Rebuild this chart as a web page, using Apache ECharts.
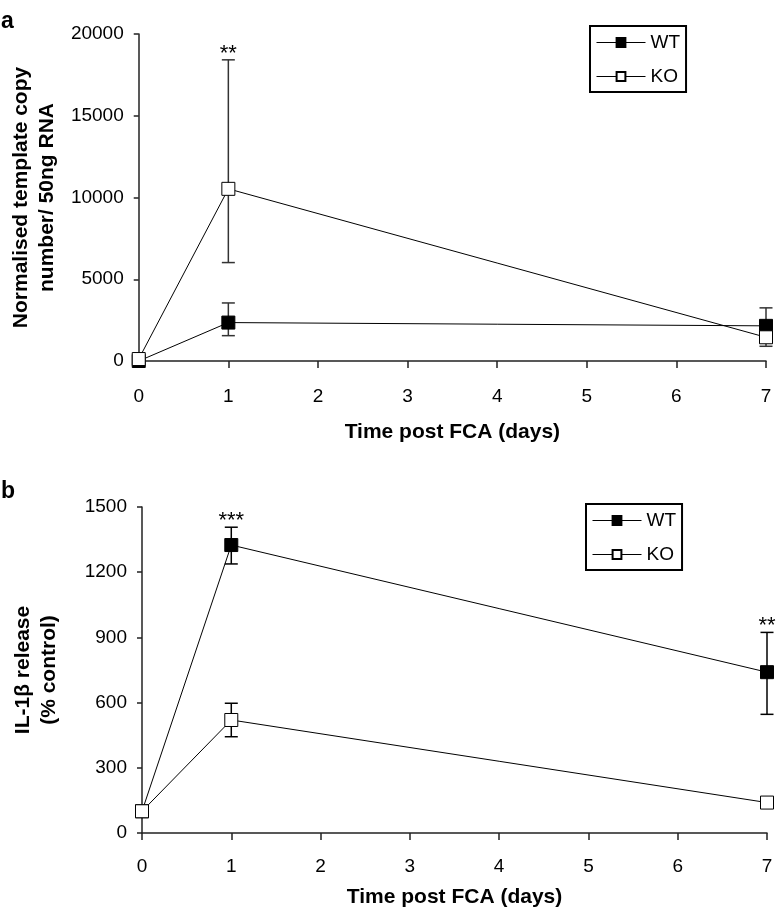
<!DOCTYPE html>
<html>
<head>
<meta charset="utf-8">
<script src="https://cdn.jsdelivr.net/npm/echarts@6/dist/echarts.min.js"></script>
<style>
html, body { margin: 0; padding: 0; background: #fff; }
#chart { width: 777px; height: 911px; }
</style>
</head>
<body>
<div id="chart"></div>
<script>
var days = [0, 1, 7];

// panel a - normalised template copy number / 50ng RNA
var copyWT = [0, 2350, 2150];
var copyWTLow = [-80, 1550, 1100];
var copyWTHigh = [80, 3550, 3250];
var copyKO = [120, 10530, 1450];
var copyKOLow = [40, 6020, 900];
var copyKOHigh = [200, 18420, 2000];
var copyStars = ['', '**', ''];

// panel b - IL-1beta release (% control)
var ilWT = [100, 1325, 740];
var ilWTLow = [80, 1238, 546];
var ilWTHigh = [120, 1407, 923];
var ilKO = [100, 520, 140];
var ilKOLow = [80, 443, 125];
var ilKOHigh = [120, 597, 155];
var ilStars = ['', '***', '**'];

var font = 'Liberation Sans, Arial, sans-serif';

function pairs(ys) {
    return days.map(function (d, i) { return [d, ys[i]]; });
}

function lineSeries(name, ys, fill, idx) {
    return {
        name: name,
        type: 'line',
        xAxisIndex: idx,
        yAxisIndex: idx,
        z: 3,
        clip: false,
        data: pairs(ys),
        symbol: 'rect',
        symbolSize: 13,
        lineStyle: { color: '#000', width: 1 },
        itemStyle: { color: fill, borderColor: '#000', borderWidth: 1 },
        emphasis: { disabled: true },
        animation: false
    };
}

function errorSeries(lo, hi, color, idx) {
    return {
        type: 'custom',
        xAxisIndex: idx,
        yAxisIndex: idx,
        z: 1,
        silent: true,
        animation: false,
        data: days.map(function (d, i) { return [d, lo[i], hi[i]]; }),
        renderItem: function (params, api) {
            var x = api.value(0);
            var a = api.coord([x, api.value(1)]);
            var b = api.coord([x, api.value(2)]);
            var w = 6.5;
            var st = { stroke: color, lineWidth: 1.5 };
            return {
                type: 'group',
                children: [
                    { type: 'line', shape: { x1: a[0], y1: a[1], x2: b[0], y2: b[1] }, style: st },
                    { type: 'line', shape: { x1: a[0] - w, y1: a[1], x2: a[0] + w, y2: a[1] }, style: st },
                    { type: 'line', shape: { x1: b[0] - w, y1: b[1], x2: b[0] + w, y2: b[1] }, style: st }
                ]
            };
        }
    };
}

// significance stars sit above the highest error bar of that day
function starSeries(stars, highs, idx) {
    var items = [];
    days.forEach(function (d, i) {
        if (stars[i]) {
            var top = Math.max.apply(null, highs.map(function (h) { return h[i]; }));
            items.push({ x: d, y: top, text: stars[i] });
        }
    });
    return {
        type: 'custom',
        xAxisIndex: idx,
        yAxisIndex: idx,
        z: 4,
        silent: true,
        animation: false,
        data: items.map(function (it) { return [it.x, it.y]; }),
        renderItem: function (params, api) {
            var p = api.coord([api.value(0), api.value(1)]);
            return {
                type: 'text',
                x: p[0],
                y: p[1] - 6,
                style: {
                    text: items[params.dataIndex].text,
                    fill: '#000',
                    font: '22px ' + font,
                    align: 'center',
                    verticalAlign: 'middle'
                }
            };
        }
    };
}

function plain(v) {
    return String(v);
}

function xAxis(idx, labelMargin, nameGap) {
    return {
        type: 'value',
        gridIndex: idx,
        min: 0,
        max: 7,
        interval: 1,
        name: 'Time post FCA (days)',
        nameLocation: 'middle',
        nameGap: nameGap,
        nameTextStyle: { fontFamily: font, fontSize: 21, fontWeight: 'bold', color: '#000' },
        axisLine: { lineStyle: { color: '#222', width: 1.5 } },
        axisTick: { show: true, inside: false, length: 7, lineStyle: { color: '#222', width: 1.5 } },
        axisLabel: { fontFamily: font, fontSize: 19, color: '#000', margin: labelMargin, formatter: plain },
        splitLine: { show: false }
    };
}

function yAxis(idx, max, step, name, nameGap) {
    return {
        type: 'value',
        gridIndex: idx,
        min: 0,
        max: max,
        interval: step,
        name: name,
        nameLocation: 'middle',
        nameRotate: 90,
        nameGap: nameGap,
        nameTextStyle: { fontFamily: font, fontSize: 21, fontWeight: 'bold', color: '#000', lineHeight: 26, align: 'center' },
        axisLine: { show: true, lineStyle: { color: '#222', width: 1.5 } },
        axisTick: { show: true, inside: false, length: 5, lineStyle: { color: '#222', width: 1.5 } },
        axisLabel: { fontFamily: font, fontSize: 19, color: '#000', margin: 15, formatter: plain },
        splitLine: { show: false }
    };
}

function legend(left, top) {
    return {
        data: ['WT', 'KO'],
        orient: 'vertical',
        left: left,
        top: top,
        itemWidth: 49,
        itemHeight: 11,
        itemGap: 15,
        padding: [7, 6, 6, 6],
        borderColor: '#000',
        borderWidth: 2,
        selectedMode: false,
        lineStyle: { color: '#000', width: 1 },
        textStyle: { fontFamily: font, fontSize: 19, color: '#000', lineHeight: 19 }
    };
}

var chart = echarts.init(document.getElementById('chart'), null, { renderer: 'canvas' });

chart.setOption({
    backgroundColor: '#fff',
    animation: false,
    grid: [
        { left: 133, top: 34, width: 633, height: 327 },
        { left: 142, top: 507, width: 625, height: 326 }
    ],
    xAxis: [xAxis(0, 26, 61), xAxis(1, 24, 54)],
    yAxis: [
        yAxis(0, 20000, 5000, 'Normalised template copy\nnumber/ 50ng RNA', 74),
        yAxis(1, 1500, 300, 'IL-1\u03b2 release\n(% control)', 80)
    ],
    legend: [legend(590, 26), legend(586, 504)],
    graphic: [
        { type: 'text', left: 1, top: 10, style: { text: 'a', font: 'bold 23px ' + font, fill: '#000' } },
        { type: 'text', left: 1, top: 480, style: { text: 'b', font: 'bold 23px ' + font, fill: '#000' } }
    ],
    series: [
        errorSeries(copyWTLow, copyWTHigh, '#333', 0),
        errorSeries(copyKOLow, copyKOHigh, '#333', 0),
        lineSeries('WT', copyWT, '#000', 0),
        lineSeries('KO', copyKO, '#fff', 0),
        starSeries(copyStars, [copyWTHigh, copyKOHigh], 0),

        errorSeries(ilWTLow, ilWTHigh, '#000', 1),
        errorSeries(ilKOLow, ilKOHigh, '#000', 1),
        lineSeries('WT', ilWT, '#000', 1),
        lineSeries('KO', ilKO, '#fff', 1),
        starSeries(ilStars, [ilWTHigh, ilKOHigh], 1)
    ]
});
</script>
</body>
</html>
